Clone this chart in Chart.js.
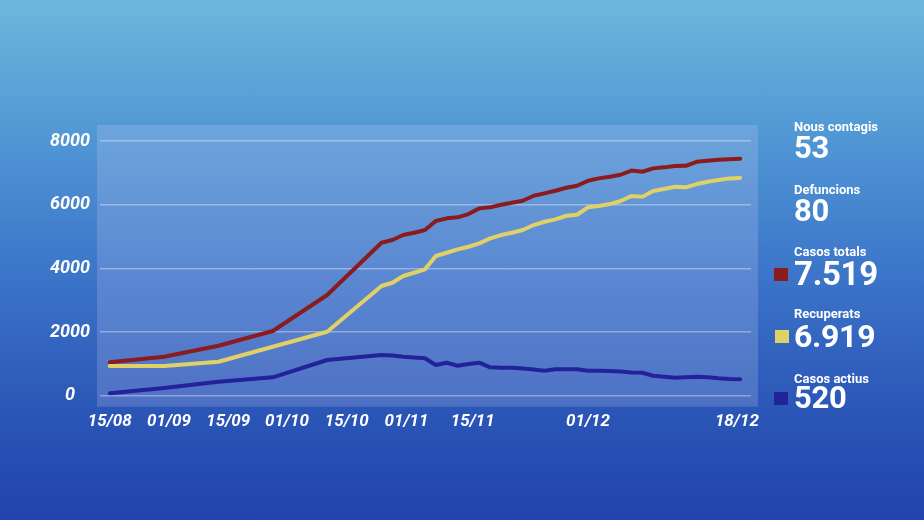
<!DOCTYPE html>
<html>
<head>
<meta charset="utf-8">
<script src="https://cdn.jsdelivr.net/npm/chart.js@4.4.1/dist/chart.umd.min.js"></script>
<style>
  html, body { margin: 0; padding: 0; }
  body {
    width: 924px; height: 520px; overflow: hidden; position: relative;
    background: linear-gradient(to bottom, #6cb8dc 0%, #4f95d4 28%, #3a72c8 55%, #2a55b6 80%, #2143ad 100%);
    font-family: Roboto, "Noto Sans", sans-serif;
  }
  #chart { position: absolute; left: 0; top: 0; }
  .stat { position: absolute; left: 794px; color: #fff; font-weight: bold; line-height: 1; white-space: nowrap; }
  .lbl { font-size: 13px; }
  .num { font-size: 32px; letter-spacing: -0.3px; }
  .sq { position: absolute; width: 14px; height: 13px; }
</style>
</head>
<body>
<canvas id="chart" width="924" height="520"></canvas>

<div class="stat lbl" style="top:120px">Nous contagis</div>
<div class="stat num" style="top:132px;font-size:31px">53</div>
<div class="stat lbl" style="top:183px">Defuncions</div>
<div class="stat num" style="top:195px;font-size:31px">80</div>
<div class="stat lbl" style="top:245px">Casos totals</div>
<div class="stat num" style="top:257px;font-size:33px">7.519</div>
<div class="sq" style="left:774px;top:268px;background:#8b1b1d"></div>
<div class="stat lbl" style="top:307px">Recuperats</div>
<div class="stat num" style="top:320px">6.919</div>
<div class="sq" style="left:775px;top:330px;background:#e0d166"></div>
<div class="stat lbl" style="top:372px">Casos actius</div>
<div class="stat num" style="top:382px;font-size:31px">520</div>
<div class="sq" style="left:774px;top:392px;background:#24229b"></div>

<script>
// posició de cada registre a l'eix X (els primers són quinzenals)
const xIndex = [0, 5, 10, 15, 20, 25, 26, 27, 28, 29, 30, 31, 32, 33, 34, 35, 36, 37, 38, 39,
  40, 41, 42, 43, 44, 45, 46, 47, 48, 49, 50, 51, 52, 53, 54, 55, 56, 57, 58];

const casosTotals = [1050, 1225, 1570, 2032, 3162, 4804, 4889, 5046, 5118, 5203, 5486, 5570, 5602, 5705,
  5884, 5916, 5997, 6060, 6123, 6280, 6355, 6437, 6531, 6594, 6751, 6826, 6877, 6940, 7071, 7034,
  7140, 7172, 7213, 7222, 7348, 7379, 7410, 7430, 7440];

const recuperats = [933, 935, 1068, 1539, 2010, 3445, 3548, 3759, 3862, 3969, 4387, 4490, 4597, 4679,
  4785, 4942, 5046, 5118, 5203, 5360, 5464, 5539, 5652, 5683, 5916, 5957, 6019, 6114, 6271, 6249,
  6428, 6490, 6563, 6544, 6647, 6720, 6773, 6826, 6840];

const casosActius = [75, 242, 440, 578, 1121, 1278, 1262, 1225, 1200, 1174, 964, 1036, 942, 995,
  1036, 892, 879, 879, 854, 823, 785, 829, 829, 829, 785, 782, 776, 760, 728, 722,
  628, 597, 565, 578, 597, 578, 546, 524, 520];

// etiquetes de l'eix X i on cauen
const tickLabels = ["15/08", "01/09", "15/09", "01/10", "15/10", "01/11", "15/11", "01/12", "18/12"];
const tickPos = [0, 5.45, 10.9, 16.3, 21.8, 27.3, 33.4, 44.0, 57.7];

const yTicks = [0, 2000, 4000, 6000, 8000];

const toPoints = values => xIndex.map((x, i) => ({ x: x, y: values[i] }));

// rectangle clar darrere de l'àrea del gràfic
const plotPanel = {
  id: "plotPanel",
  beforeDraw(chart) {
    const { ctx, chartArea } = chart;
    ctx.save();
    ctx.fillStyle = "rgba(205, 205, 240, 0.22)";
    ctx.fillRect(chartArea.left - 3, chartArea.top - 16, chartArea.width + 10, chartArea.height + 27);
    ctx.restore();
  }
};

new Chart(document.getElementById("chart"), {
  type: "line",
  data: {
    datasets: [
      { label: "Casos actius", data: toPoints(casosActius), borderColor: "#24229b" },
      { label: "Recuperats", data: toPoints(recuperats), borderColor: "#e0d166" },
      { label: "Casos totals", data: toPoints(casosTotals), borderColor: "#8b1b1d" }
    ]
  },
  options: {
    responsive: false,
    animation: false,
    layout: { padding: { top: 141, right: 173, left: 0, bottom: 0 } },
    elements: {
      line: { borderWidth: 4, tension: 0, borderJoinStyle: "round", borderCapStyle: "round" },
      point: { radius: 0 }
    },
    plugins: { legend: { display: false }, tooltip: { enabled: false } },
    scales: {
      x: {
        type: "linear",
        min: -0.9,
        max: 59,
        grid: { display: false, drawTicks: false },
        border: { display: false },
        afterFit: axis => { axis.height = 124.3; },
        afterBuildTicks: axis => { axis.ticks = tickPos.map(v => ({ value: v })); },
        ticks: {
          autoSkip: false,
          maxRotation: 0,
          padding: 16,
          color: "#ffffff",
          font: { family: "Roboto", size: 17, weight: "bold", style: "italic" },
          callback: (value, index) => tickLabels[index]
        }
      },
      y: {
        min: 0,
        max: 8000,
        grid: { color: "rgba(255, 255, 255, 0.35)", lineWidth: 1.5, drawTicks: false },
        border: { display: false },
        afterFit: axis => { axis.width = 100; },
        afterBuildTicks: axis => { axis.ticks = yTicks.map(v => ({ value: v })); },
        ticks: {
          padding: 10,
          crossAlign: "center",
          color: "#ffffff",
          font: { family: "Roboto", size: 18, weight: "bold", style: "italic" },
          callback: value => String(value) // sense separador de milers
        }
      }
    }
  },
  plugins: [plotPanel]
});
</script>
</body>
</html>
